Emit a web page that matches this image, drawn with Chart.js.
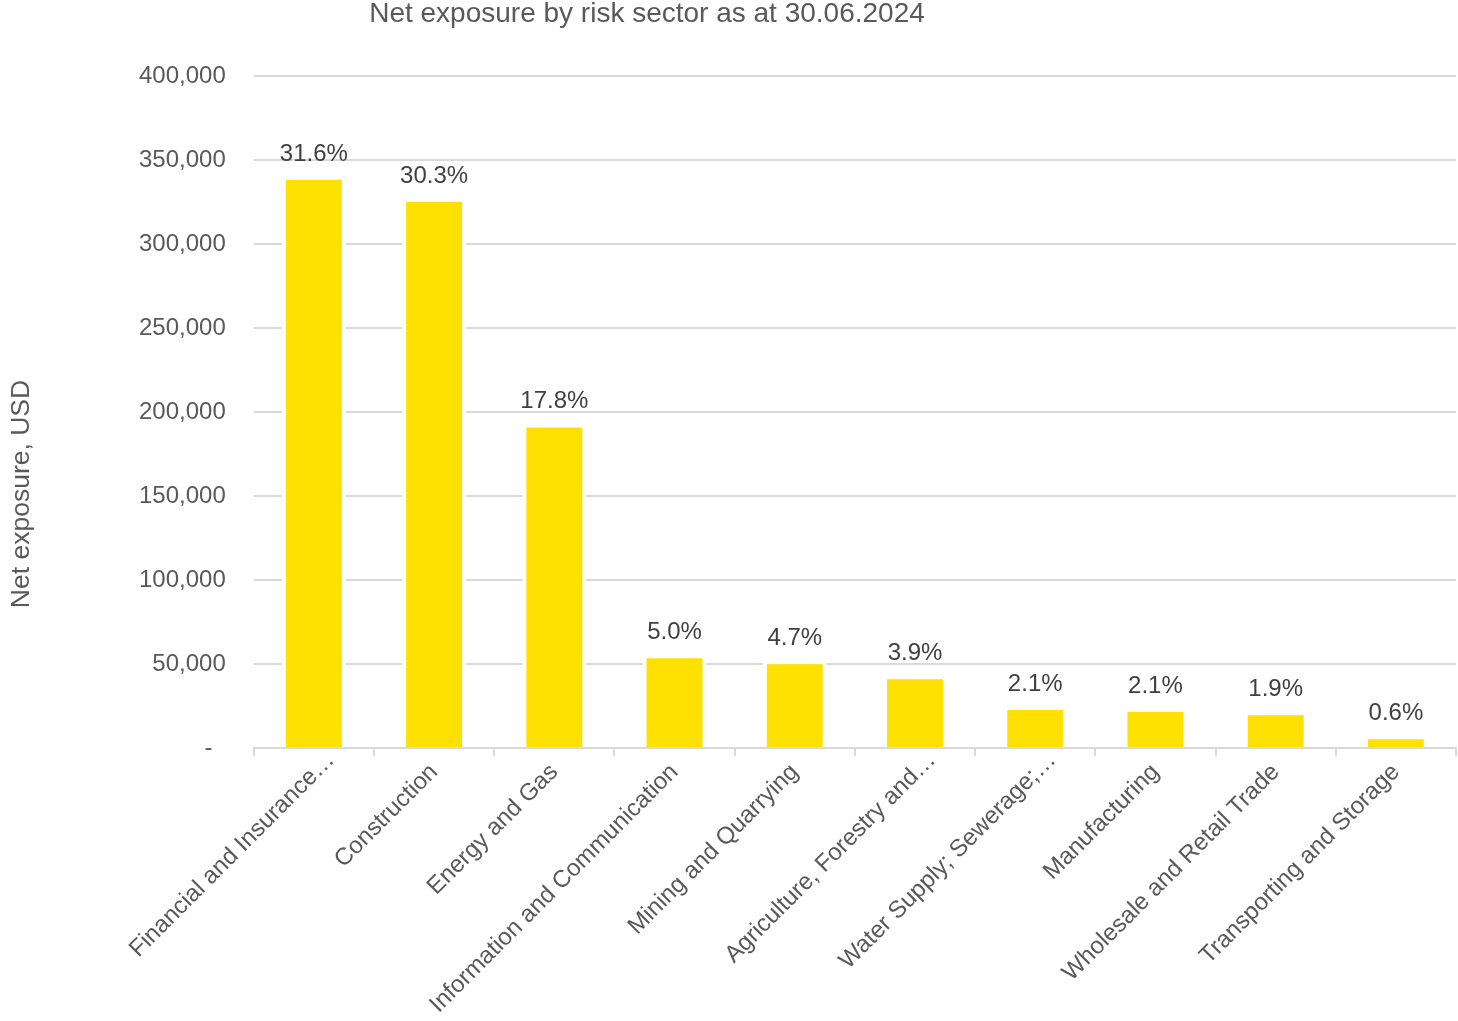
<!DOCTYPE html>
<html>
<head>
<meta charset="utf-8">
<title>Net exposure by risk sector</title>
<script src="https://cdn.jsdelivr.net/npm/chart.js@4.4.1/dist/chart.umd.min.js"></script>
<style>
  body { margin: 0; background: #fff; }
  #wrap { width: 1458px; height: 1021px; position: relative; }
</style>
</head>
<body>
<div id="wrap"><canvas id="chart"></canvas></div>
<script>
const sectors = [
  "Financial and Insurance\u2026",
  "Construction",
  "Energy and Gas",
  "Information and Communication",
  "Mining and Quarrying",
  "Agriculture, Forestry and\u2026",
  "Water Supply; Sewerage;\u2026",
  "Manufacturing",
  "Wholesale and Retail Trade",
  "Transporting and Storage",
];
const exposureUSD = [340600, 327500, 193200, 55900, 52300, 43400, 25000, 23800, 22000, 7700];
const shareLabels = ["31.6%", "30.3%", "17.8%", "5.0%", "4.7%", "3.9%", "2.1%", "2.1%", "1.9%", "0.6%"];
const yTicks = [0, 50000, 100000, 150000, 200000, 250000, 300000, 350000, 400000];

const FONT = "'Liberation Sans', Arial, sans-serif";
const gridGrey = "#d9d9d9";
const textGrey = "#595959";

// title and rotated y axis caption, drawn by hand so they sit where we want
const captions = {
  id: "captions",
  afterDraw(chart) {
    const ctx = chart.ctx;
    ctx.save();
    ctx.fillStyle = textGrey;
    ctx.textAlign = "center";
    ctx.textBaseline = "middle";
    ctx.font = `28px ${FONT}`;
    ctx.fillText("Net exposure by risk sector as at 30.06.2024", 647, 14);
    ctx.font = `26.5px ${FONT}`;
    ctx.translate(22, 494);
    ctx.rotate(-Math.PI / 2);
    ctx.fillText("Net exposure, USD", 0, 0);
    ctx.restore();
  },
};

// cut-off category names hang a little past their tick, nudge them along the slant
const nudgeTruncated = {
  id: "nudgeTruncated",
  beforeDraw(chart) {
    const items = chart.scales.x.getLabelItems();
    items.forEach((item, i) => {
      if (item.nudged || !sectors[i].endsWith("\u2026")) return;
      item.options.translation[0] += 17;
      item.options.translation[1] -= 12;
      item.nudged = true;
    });
  },
};

// percentage share printed above each bar
const shareValues = {
  id: "shareValues",
  afterDatasetsDraw(chart) {
    const ctx = chart.ctx;
    const bars = chart.getDatasetMeta(0).data;
    ctx.save();
    ctx.fillStyle = "#404040";
    ctx.font = `24px ${FONT}`;
    ctx.textAlign = "center";
    ctx.textBaseline = "alphabetic";
    bars.forEach((bar, i) => {
      ctx.fillText(shareLabels[i], bar.x, bar.y - 15);
    });
    ctx.restore();
  },
};

const chart = new Chart(document.getElementById("chart").getContext("2d"), {
  type: "bar",
  data: {
    labels: sectors,
    datasets: [
      {
        label: "Net exposure, USD",
        data: exposureUSD,
        backgroundColor: "#ffe100",
        borderColor: "#ffffff",
        borderWidth: 4,
        barPercentage: 0.532,
        categoryPercentage: 1,
      },
    ],
  },
  options: {
    responsive: true,
    maintainAspectRatio: false,
    animation: false,
    layout: { padding: { left: 111, right: 2, top: 76, bottom: 0 } },
    plugins: {
      legend: { display: false },
      tooltip: { enabled: false },
      title: { display: false },
    },
    scales: {
      x: {
        grid: {
          display: true,
          drawOnChartArea: false,
          drawTicks: true,
          tickLength: 8,
          color: gridGrey,
          lineWidth: 2,
          offset: true,
        },
        border: { display: true, color: gridGrey, width: 2 },
        ticks: {
          color: textGrey,
          font: { family: FONT, size: 24 },
          autoSkip: false,
          maxRotation: 45,
          minRotation: 45,
          padding: 2,
        },
      },
      y: {
        min: 0,
        max: 400000,
        afterBuildTicks(scale) {
          scale.ticks = yTicks.map((v) => ({ value: v }));
        },
        grid: { color: gridGrey, lineWidth: 2, drawTicks: false },
        border: { display: false },
        ticks: {
          color: textGrey,
          font: { family: FONT, size: 24 },
          padding: 28,
          callback: (v) => (v === 0 ? "-  " : v.toLocaleString("en-US")),
        },
      },
    },
  },
  plugins: [captions, nudgeTruncated, shareValues],
});
</script>
</body>
</html>
